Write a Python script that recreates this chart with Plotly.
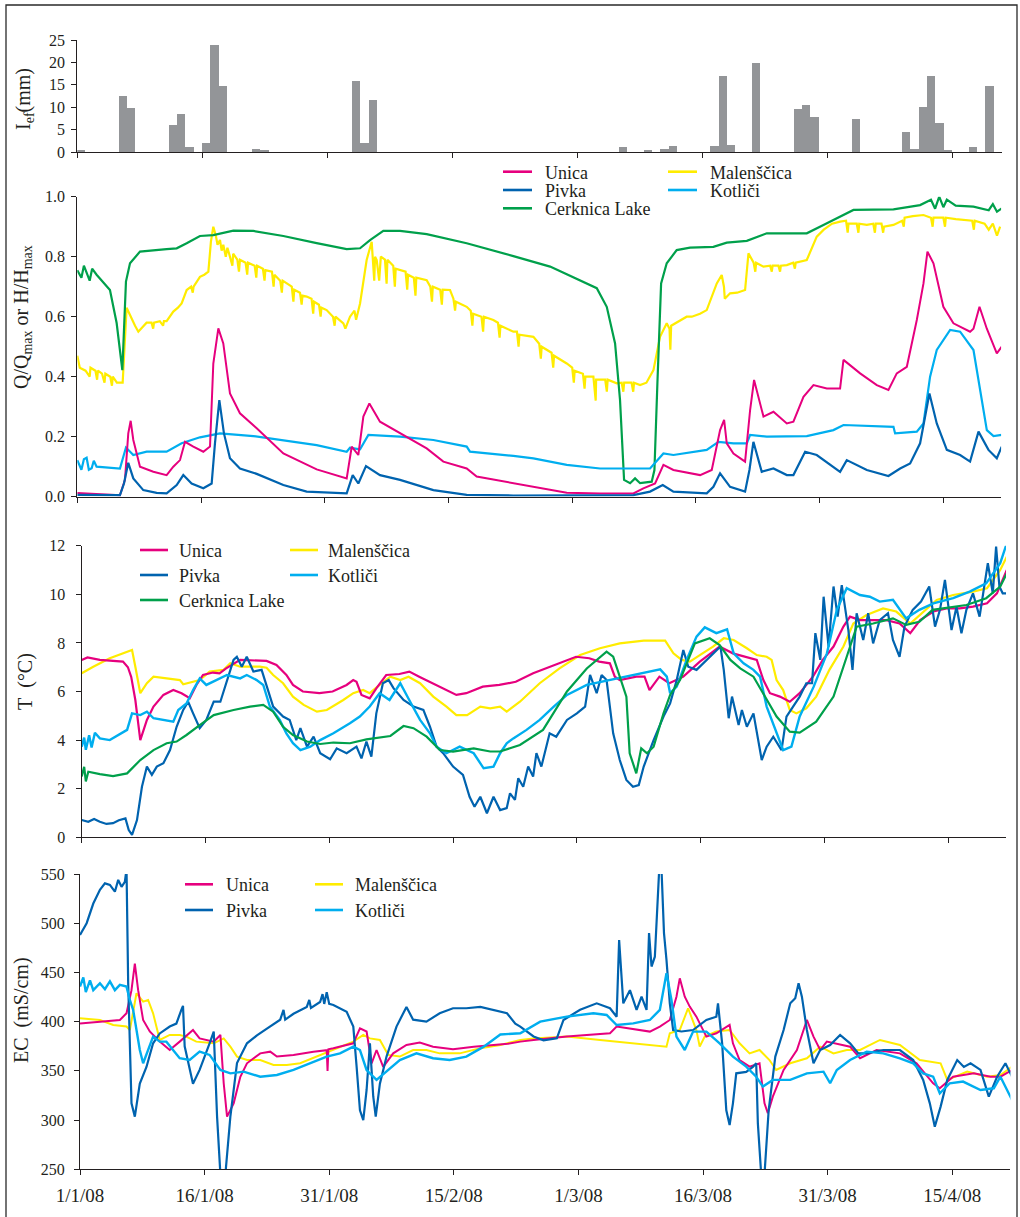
import numpy as np
import pandas as pd
import plotly.graph_objects as go

W, H = 1020, 1217
BASE = pd.Timestamp("2008-01-01")

# ---------------- data ----------------
tick_dates = ["2008-01-01", "2008-01-16", "2008-01-31", "2008-02-15",
              "2008-03-01", "2008-03-16", "2008-03-31", "2008-04-15"]
tick_text = ["1/1/08", "16/1/08", "31/1/08", "15/2/08",
             "1/3/08", "16/3/08", "31/3/08", "15/4/08"]

rain_dates = ["2008-01-01", "2008-01-06", "2008-01-07", "2008-01-12", "2008-01-13", "2008-01-14",
              "2008-01-16", "2008-01-17", "2008-01-18", "2008-01-22", "2008-01-23", "2008-02-03",
              "2008-02-04", "2008-02-05", "2008-03-06", "2008-03-09", "2008-03-11", "2008-03-12",
              "2008-03-17", "2008-03-18", "2008-03-19", "2008-03-22", "2008-03-27", "2008-03-28",
              "2008-03-29", "2008-04-03", "2008-04-09", "2008-04-10", "2008-04-11", "2008-04-12",
              "2008-04-13", "2008-04-14", "2008-04-17", "2008-04-19"]
rain_mm = [0.4, 12.6, 9.9, 6.0, 8.4, 1.2, 1.9, 23.8, 14.7, 0.6, 0.4, 15.8, 1.9, 11.7,
           1.1, 0.4, 0.7, 1.3, 1.4, 17.0, 1.5, 19.9, 9.5, 10.4, 7.8, 7.3, 4.5, 0.6,
           10.0, 16.9, 6.5, 0.4, 1.1, 14.7]

# (day since 1 Jan 2008, value) pairs
q_unica = [(0, .012), (5.17, .005), (5.78, .056), (6.18, .211), (6.47, .253), (6.79, .189), (7.6, .1),
           (9.22, .083), (10.83, .072), (11.64, .1), (12.45, .122), (13.06, .183), (14.07, .167),
           (15.28, .15), (16.09, .167), (16.49, .444), (17.1, .561), (17.7, .511), (18.51, .344),
           (19.72, .278), (21.75, .228), (24.98, .144), (29.02, .091), (32.66, .061), (33.27, .167),
           (34.07, .139), (34.68, .267), (35.41, .311), (36.7, .25), (39.13, .211), (42.36, .161),
           (44.38, .117), (47.21, .094), (48.42, .067), (52.87, .044), (55.3, .033), (59.34, .013),
           (63.38, .011), (67.42, .011), (68.63, .028), (70.05, .044), (71.06, .106), (72.27, .089),
           (75.51, .072), (76.92, .089), (77.93, .222), (78.42, .256), (78.74, .178), (79.55, .144),
           (80.96, .117), (81.57, .289), (82.05, .389), (83.19, .267), (84.4, .283), (86.02, .244),
           (86.82, .25), (88.04, .333), (89.25, .372), (90.87, .361), (92.48, .361), (92.89, .456),
           (94.91, .411), (96.93, .372), (98.34, .356), (99.35, .411), (100.57, .433), (101.78, .589),
           (102.59, .711), (103.07, .817), (103.8, .778), (105.0, .633), (106.22, .578), (108.24, .55),
           (108.65, .56), (109.38, .633), (110.27, .56), (111.48, .478), (112.08, .5)]
q_pivka = [(0, .006), (5.17, .005), (5.66, .044), (6.18, .113), (6.79, .061), (8.0, .022), (9.62, .013),
           (10.83, .011), (12.05, .039), (12.85, .072), (13.86, .044), (15.28, .028), (16.29, .044),
           (16.69, .178), (17.22, .322), (17.78, .211), (18.51, .128), (19.72, .094), (21.75, .076),
           (24.98, .039), (27.81, .017), (32.66, .011), (33.39, .072), (34.07, .044), (35.0, .102),
           (36.7, .072), (39.13, .056), (43.17, .022), (47.21, .006), (52.87, .004), (67.42, .005),
           (69.44, .017), (70.98, .039), (72.27, .017), (76.31, .011), (77.12, .033), (77.93, .078),
           (79.14, .033), (80.96, .017), (81.49, .089), (81.97, .183), (82.98, .083), (84.4, .094),
           (86.02, .072), (86.82, .072), (88.24, .15), (89.65, .139), (92.48, .083), (93.29, .122),
           (95.72, .089), (98.34, .069), (99.76, .094), (100.97, .111), (102.18, .178), (103.31, .344),
           (104.2, .244), (105.42, .156), (107.03, .139), (108.24, .117), (109.26, .217), (110.47, .156),
           (111.48, .128), (112.08, .167)]
q_cerknica = [(0, .755), (0.5, .73), (0.8, .77), (1.13, .745), (1.5, .72), (1.8, .76), (2.34, .74),
              (3.96, .689), (4.77, .579), (5.46, .422), (5.90, .717), (6.39, .778), (7.60, .817),
              (10.83, .825), (12.05, .828), (13.26, .845), (14.87, .869), (16.49, .872), (18.92, .887),
              (21.34, .886), (24.98, .869), (29.02, .845), (32.66, .825), (34.28, .828), (35.49, .855),
              (37.1, .886), (39.13, .886), (42.36, .875), (47.21, .845), (52.87, .802), (57.32, .767),
              (62.98, .695), (64.19, .633), (65.2, .511), (65.8, .322), (66.29, .056), (67.02, .045),
              (67.62, .061), (68.23, .045), (69.64, .05), (69.97, .089), (70.33, .378), (70.78, .711),
              (71.46, .778), (72.67, .822), (74.29, .83), (77.12, .833), (78.74, .847), (81.17, .853),
              (83.59, .878), (88.44, .878), (90.46, .906), (94.1, .956), (98.95, .958), (102.18, .972),
              (103.5, .99), (104.0, .96), (104.5, 1.0), (105.0, .965), (105.42, .99), (106.5, .97),
              (108.65, .967), (110.5, .955), (111.0, .975), (111.5, .95), (112.08, .961)]
q_malenscica = [(0, .47), (0.3, .43), (1.0, .42), (1.5, .40), (1.6, .43), (2.2, .42), (2.4, .39), (2.5, .42),
                (3.0, .41), (3.3, .38), (3.4, .41), (4.0, .40), (4.2, .37), (4.3, .40), (4.8, .38), (5.5, .38),
                (5.98, .63), (6.47, .60), (7.0, .57), (7.4, .55), (8.0, .57), (8.4, .58), (9.0, .58), (9.2, .56),
                (9.3, .58), (10.0, .585), (10.4, .57), (10.5, .585), (10.83, .585), (11.64, .617), (12.2, .63),
                (12.65, .644), (13.26, .689), (13.8, .70), (14.0, .68), (14.1, .70), (14.87, .733), (15.4, .74),
                (15.89, .75), (16.2, .85), (16.49, .90), (16.8, .87), (17.0, .84), (17.3, .856), (17.5, .82),
                (17.7, .84), (18.0, .80), (18.2, .83), (18.51, .80), (18.8, .77), (18.9, .81), (19.4, .79),
                (19.6, .75), (19.72, .79), (20.4, .78), (20.6, .74), (20.7, .78), (21.5, .77), (21.7, .73),
                (21.8, .77), (22.5, .76), (22.7, .72), (22.8, .755), (23.6, .75), (23.8, .70), (23.9, .74),
                (24.6, .72), (24.8, .68), (24.9, .72), (25.38, .711), (26.0, .70), (26.2, .65), (26.3, .69),
                (27.0, .68), (27.2, .64), (27.3, .67), (27.81, .667), (28.4, .66), (28.6, .61), (28.7, .65),
                (29.3, .64), (29.5, .60), (29.6, .63), (30.23, .622), (31.0, .60), (31.2, .57), (31.3, .60),
                (32.26, .578), (32.5, .56), (33.06, .60), (33.6, .62), (33.8, .59), (34.28, .644), (35.08, .789),
                (35.69, .85), (36.0, .72), (36.1, .80), (36.3, .789), (36.6, .72), (36.8, .80), (37.3, .79),
                (37.5, .71), (37.6, .79), (38.3, .77), (38.5, .70), (38.6, .76), (39.13, .756), (39.8, .75),
                (40.0, .69), (40.1, .74), (40.8, .73), (41.0, .67), (41.1, .73), (42.36, .722), (42.8, .70),
                (43.0, .65), (43.1, .70), (44.0, .69), (44.2, .64), (44.3, .69), (45.19, .689), (45.6, .66),
                (45.8, .62), (45.9, .65), (47.21, .633), (47.7, .62), (47.9, .57), (48.0, .61), (49.0, .60),
                (49.2, .55), (49.3, .60), (50.44, .589), (51.0, .58), (51.2, .53), (51.3, .57), (52.87, .55),
                (53.3, .55), (53.5, .50), (53.6, .54), (55.3, .533), (56.0, .51), (56.2, .46), (56.3, .50),
                (57.5, .48), (57.7, .43), (57.8, .47), (59.34, .444), (60.0, .43), (60.2, .38), (60.3, .42),
                (61.3, .41), (61.5, .36), (61.6, .40), (62.57, .40), (62.85, .32), (62.9, .39), (64.0, .39),
                (64.2, .35), (64.3, .39), (65.4, .378), (66.0, .38), (66.2, .35), (66.3, .38), (67.2, .38),
                (67.4, .35), (67.5, .38), (68.23, .372), (69.0, .38), (69.85, .422), (70.65, .533), (71.46, .578),
                (71.8, .56), (71.9, .49), (72.0, .57), (73.88, .60), (74.5, .60), (75.5, .61), (76.31, .622),
                (77.53, .711), (78.13, .739), (78.4, .70), (78.5, .66), (79.14, .678), (80.0, .68), (80.96, .689),
                (81.37, .811), (82.0, .78), (82.2, .75), (82.3, .78), (83.19, .767), (84.0, .77), (84.2, .75),
                (84.3, .77), (85.0, .77), (85.2, .75), (85.3, .77), (86.02, .772), (86.8, .78), (87.0, .76),
                (87.1, .78), (88.44, .789), (89.65, .867), (90.5, .89), (91.5, .91), (92.48, .917), (93.2, .92),
                (93.4, .88), (93.5, .91), (94.5, .91), (94.7, .88), (94.8, .91), (95.72, .906), (96.5, .91),
                (96.7, .88), (96.8, .91), (97.5, .91), (97.7, .88), (97.8, .90), (98.95, .906), (100.0, .92),
                (100.2, .90), (100.3, .93), (101.3, .935), (102.59, .939), (103.5, .93), (103.7, .90), (103.8, .93),
                (105.0, .93), (105.2, .90), (105.3, .93), (106.5, .925), (107.84, .922), (108.5, .92), (108.7, .89),
                (108.8, .92), (110.0, .91), (110.5, .89), (111.0, .91), (111.5, .87), (111.88, .90)]
q_kotlici = [(0, .122), (0.5, .09), (0.8, .125), (1.13, .13), (1.4, .09), (1.74, .095), (2.0, .12), (2.34, .1),
             (5.17, .094), (5.9, .164), (6.79, .139), (8.41, .15), (10.83, .15), (12.65, .178), (14.87, .198),
             (17.3, .211), (21.34, .202), (24.98, .187), (29.02, .172), (32.66, .15), (33.06, .163),
             (34.28, .158), (35.29, .206), (39.13, .2), (43.17, .189), (47.21, .167), (47.61, .15),
             (52.87, .136), (55.3, .128), (59.34, .106), (63.38, .094), (69.44, .094), (71.06, .144),
             (72.27, .139), (76.31, .156), (77.73, .183), (79.55, .178), (81.17, .178), (81.57, .206),
             (83.59, .2), (88.44, .202), (91.67, .222), (92.89, .239), (98.95, .233), (99.15, .211),
             (101.78, .217), (102.59, .244), (103.39, .4), (104.2, .489), (105.82, .556), (107.03, .55),
             (108.65, .489), (109.66, .322), (110.27, .222), (111.08, .202), (112.08, .206)]

t_unica = [(0, 7.3), (0.7, 7.4), (2.2, 7.3), (5.0, 7.23), (5.6, 7.0), (6.0, 6.6), (6.5, 5.65), (7.1, 4.0),
           (7.9, 4.83), (8.7, 5.38), (9.9, 5.86), (11.1, 6.06), (12.1, 5.93), (13.1, 5.72), (13.9, 6.27),
           (14.7, 6.68), (15.9, 6.78), (16.7, 6.75), (17.5, 6.95), (19.2, 7.3), (22.4, 7.26), (23.6, 7.09),
           (24.8, 6.68), (25.6, 6.27), (26.8, 6.0), (28.8, 5.93), (30.4, 6.0), (32.1, 6.27), (32.9, 6.47),
           (33.3, 6.4), (33.9, 5.86), (34.9, 5.72), (35.7, 6.13), (36.9, 6.68), (38.5, 6.72), (39.7, 6.82),
           (40.9, 6.61), (42.5, 6.34), (44.2, 6.06), (45.4, 5.86), (46.6, 5.93), (48.6, 6.2), (50.6, 6.27),
           (52.6, 6.4), (54.7, 6.75), (56.7, 7.02), (59.9, 7.43), (61.5, 7.37), (62.7, 7.23), (64.0, 7.16),
           (64.6, 6.61), (65.2, 6.47), (67.2, 6.61), (68.2, 6.61), (68.8, 6.06), (70.0, 6.61), (71.2, 6.34),
           (72.9, 6.61), (74.9, 7.23), (76.5, 7.64), (77.3, 7.85), (78.9, 7.57), (80.5, 7.43), (81.8, 7.3),
           (82.6, 6.47), (83.4, 5.93), (84.6, 5.79), (85.8, 5.58), (87.0, 5.93), (88.6, 6.61), (89.8, 7.3),
           (91.1, 7.85), (92.3, 8.67), (93.1, 9.08), (94.3, 8.94), (95.9, 8.94), (97.5, 8.94), (99.1, 8.8),
           (100.4, 8.4), (101.6, 8.94), (103.2, 9.29), (104.8, 9.42), (106.4, 9.42), (108.0, 9.49),
           (109.7, 9.63), (110.9, 10.04), (112.1, 11.0)]
t_pivka = [(0, .71), (0.8, .64), (1.5, .75), (2.2, .64), (3.0, .55), (3.8, .58), (4.5, .7), (5.3, .78), (5.7, .3),
           (6.1, .1), (6.7, .71), (7.3, 2.08), (7.9, 2.91), (8.5, 2.57), (9.1, 2.91), (9.9, 3.05), (10.7, 3.59),
           (11.5, 4.55), (12.3, 5.24), (12.9, 5.58), (13.5, 5.1), (14.3, 4.49), (15.1, 4.83), (16.0, 5.58),
           (16.8, 5.58), (17.6, 6.47), (18.4, 7.3), (18.8, 7.43), (19.4, 7.02), (20.0, 7.43), (20.8, 6.82),
           (21.8, 6.89), (22.4, 6.2), (23.2, 5.38), (24.4, 4.97), (25.2, 4.83), (26.0, 4.0), (26.5, 4.49),
           (27.3, 3.73), (28.1, 4.14), (28.9, 3.46), (30.1, 3.21), (30.9, 3.66), (32.1, 3.46), (33.3, 3.73),
           (33.9, 3.25), (34.5, 3.94), (35.1, 3.32), (35.7, 5.1), (36.5, 6.34), (37.2, 6.47), (37.8, 6.13),
           (39.0, 5.65), (40.2, 5.38), (41.4, 5.24), (42.2, 4.55), (43.0, 3.73), (43.8, 3.46), (45.0, 2.91),
           (46.2, 2.57), (47.0, 1.67), (47.6, 1.26), (48.3, 1.67), (49.1, .99), (49.9, 1.67), (50.7, 1.12),
           (51.5, 1.2), (51.9, 1.81), (52.5, 1.54), (52.9, 2.43), (53.5, 2.08), (54.1, 2.91), (54.7, 2.5),
           (55.1, 3.46), (55.7, 2.91), (56.7, 4.28), (57.5, 4.14), (58.8, 4.83), (60.0, 5.1), (61.0, 5.38),
           (61.6, 6.68), (62.4, 5.93), (63.0, 6.68), (63.6, 6.47), (64.4, 4.28), (65.2, 3.18), (66.0, 2.36),
           (66.8, 2.08), (67.5, 2.15), (68.1, 2.91), (69.3, 4.0), (70.5, 4.97), (71.3, 5.51), (72.1, 6.47),
           (72.9, 7.71), (73.5, 7.02), (74.5, 6.89), (75.7, 7.3), (76.5, 7.57), (77.4, 7.85), (77.8, 6.89),
           (78.4, 4.9), (78.8, 5.79), (79.6, 4.62), (80.0, 5.24), (80.6, 4.55), (81.4, 5.1), (82.4, 3.18),
           (83.0, 3.73), (83.8, 4.14), (84.8, 3.59), (85.4, 4.97), (86.2, 5.38), (87.0, 5.79), (87.8, 6.34),
           (88.5, 6.34), (88.9, 8.4), (89.5, 7.3), (89.9, 9.9), (90.5, 7.85), (91.1, 10.32), (91.6, 9.08),
           (92.1, 10.38), (92.9, 8.53), (93.4, 6.89), (93.9, 9.22), (94.7, 8.12), (95.3, 9.22), (95.9, 7.98),
           (96.7, 8.94), (97.7, 9.22), (98.3, 8.12), (99.1, 7.43), (99.7, 8.67), (100.7, 9.36), (101.7, 9.7),
           (102.7, 10.32), (103.4, 8.67), (104.0, 9.36), (104.6, 10.59), (105.4, 8.53), (106.0, 9.49),
           (106.6, 8.4), (107.2, 9.36), (108.0, 10.04), (108.8, 9.08), (109.8, 11.28), (110.4, 10.04),
           (110.8, 11.96), (111.2, 10.32), (111.6, 10.04), (112.0, 10.04)]
t_cerknica = [(0, 2.5), (0.3, 2.9), (0.5, 2.3), (0.8, 2.7), (2.2, 2.6), (3.8, 2.52), (5.5, 2.63), (7.1, 3.18),
              (8.7, 3.59), (10.3, 3.87), (11.5, 3.94), (12.7, 4.21), (14.3, 4.62), (16.0, 5.03), (18.4, 5.24),
              (20.4, 5.38), (22.0, 5.45), (23.2, 5.17), (24.4, 4.55), (25.6, 4.21), (27.3, 3.94), (28.9, 3.84),
              (30.5, 3.9), (32.5, 3.87), (34.5, 4.03), (37.4, 4.17), (39.0, 4.58), (40.2, 4.49), (41.8, 4.14),
              (43.4, 3.59), (45.0, 3.53), (47.5, 3.66), (49.5, 3.53), (50.7, 3.53), (53.1, 3.8), (55.9, 4.42),
              (58.8, 6.0), (61.2, 6.95), (63.6, 7.64), (64.4, 7.43), (66.0, 5.79), (66.4, 3.46), (67.2, 2.63),
              (67.8, 3.66), (68.5, 3.46), (69.3, 3.73), (70.5, 5.1), (71.3, 5.86), (72.5, 6.47), (74.3, 7.98),
              (76.1, 8.19), (77.3, 7.91), (78.6, 7.3), (79.8, 6.95), (81.4, 6.61), (83.0, 5.65), (84.2, 4.97),
              (85.8, 4.35), (87.0, 4.31), (89.0, 4.76), (91.1, 5.79), (92.7, 7.43), (93.9, 8.67), (95.9, 8.8),
              (98.3, 9.01), (99.9, 8.74), (101.5, 8.87), (103.1, 9.36), (107.2, 9.56), (109.6, 9.84),
              (111.3, 10.32), (112.1, 10.86)]
t_malenscica = [(0, 6.75), (1.4, 7.02), (3.4, 7.37), (5.0, 7.57), (6.1, 7.71), (6.5, 7.02), (7.1, 5.93),
                (7.9, 6.34), (8.7, 6.61), (10.3, 6.54), (11.9, 6.47), (12.3, 6.3), (13.1, 6.36), (14.3, 6.47),
                (15.5, 6.82), (17.2, 6.89), (18.0, 7.16), (19.2, 7.02), (21.6, 7.02), (22.4, 6.98), (23.2, 6.68),
                (24.4, 6.34), (25.6, 5.79), (26.9, 5.45), (28.5, 5.17), (29.7, 5.24), (31.7, 5.65), (32.9, 5.93),
                (34.1, 6.06), (34.9, 5.93), (36.1, 6.27), (37.4, 6.61), (38.6, 6.47), (39.6, 6.61), (41.0, 6.34),
                (42.6, 5.79), (44.2, 5.38), (45.4, 5.03), (46.7, 5.03), (48.3, 5.38), (49.5, 5.31), (50.7, 5.38),
                (51.5, 5.17), (53.1, 5.58), (55.5, 6.34), (57.9, 6.95), (60.4, 7.5), (62.8, 7.78), (65.2, 7.98),
                (68.1, 8.09), (70.7, 8.09), (71.7, 7.57), (72.7, 7.3), (73.7, 7.23), (74.9, 7.5), (76.5, 7.85),
                (77.8, 8.19), (79.0, 8.12), (80.6, 7.78), (81.8, 7.5), (83.0, 7.43), (83.6, 7.3), (84.2, 6.47),
                (85.0, 6.06), (85.8, 5.24), (86.6, 5.1), (87.8, 5.31), (89.0, 5.79), (90.6, 6.89), (92.3, 7.85),
                (93.5, 8.8), (95.1, 9.15), (97.1, 9.42), (98.7, 9.29), (100.4, 8.8), (102.0, 9.29), (103.6, 9.77),
                (105.6, 9.97), (108.0, 10.11), (109.7, 10.25), (111.3, 11.0), (112.1, 11.55)]
t_kotlici = [(0, 3.73), (0.3, 4.1), (0.5, 3.6), (0.9, 4.2), (1.2, 3.7), (1.6, 4.3), (2.2, 4.07), (3.4, 4.0),
             (5.5, 4.42), (6.1, 5.1), (7.1, 5.03), (7.9, 5.17), (8.7, 4.9), (9.9, 4.83), (11.1, 4.76), (11.7, 5.24),
             (12.7, 5.51), (13.5, 6.06), (14.3, 6.54), (15.1, 6.27), (16.4, 6.47), (17.6, 6.68), (19.2, 6.54),
             (20.0, 6.68), (21.2, 6.47), (22.0, 6.27), (22.8, 5.38), (24.0, 4.83), (24.8, 4.28), (25.6, 3.87),
             (26.5, 3.59), (27.7, 3.73), (28.9, 4.0), (30.5, 4.28), (32.5, 4.69), (33.7, 4.97), (34.9, 5.38),
             (36.1, 5.93), (37.3, 5.65), (38.6, 6.34), (39.8, 5.58), (41.0, 4.83), (42.2, 4.28), (43.0, 3.73),
             (44.2, 3.46), (45.8, 3.73), (47.5, 3.46), (48.7, 2.84), (49.9, 2.91), (50.7, 3.46), (51.5, 3.87),
             (52.3, 4.07), (53.9, 4.42), (55.5, 4.83), (57.2, 5.38), (58.8, 5.86), (61.2, 6.27), (64.0, 6.47),
             (66.8, 6.68), (70.1, 6.91), (70.9, 6.61), (71.3, 5.93), (72.1, 6.2), (73.3, 7.3), (74.5, 8.26),
             (75.5, 8.64), (76.9, 8.4), (78.2, 8.56), (79.0, 7.57), (80.2, 7.16), (81.4, 6.89), (82.2, 6.61),
             (83.0, 5.38), (84.2, 4.28), (85.0, 3.59), (86.0, 3.73), (87.0, 4.97), (88.7, 6.2), (90.3, 7.57),
             (91.5, 9.36), (92.7, 10.25), (94.3, 9.97), (95.5, 9.9), (96.7, 9.7), (98.3, 9.77), (99.9, 9.01),
             (101.5, 9.36), (103.2, 9.63), (105.6, 9.84), (107.6, 10.11), (109.6, 10.45), (111.3, 11.28),
             (112.1, 12.1)]

ec_unica = [(0, 398), (2.4, 400), (4.8, 401.7), (5.6, 408.5), (6.2, 432), (6.6, 459), (7.0, 432), (7.6, 401.7),
            (8.4, 390), (9.6, 379.7), (10.8, 371.2), (12.0, 379.7), (13.6, 391.5), (14.4, 383), (16.1, 379.7),
            (16.9, 386.5), (17.3, 337.4), (17.7, 303.5), (18.5, 317), (19.3, 344), (20.1, 357.7), (21.7, 367.8),
            (22.9, 369.5), (23.7, 364.5), (25.7, 366.2), (28.1, 369.5), (29.7, 371), (29.8, 350), (29.9, 372),
            (30.5, 373), (32.1, 376.3), (32.9, 378), (33.7, 393.2), (34.5, 390), (35.1, 357.7), (35.7, 371.2),
            (36.5, 354), (37.7, 367.8), (39.3, 376.3), (40.9, 378.7), (42.5, 374.6), (44.9, 371.9), (47.4, 374.6),
            (49.8, 376.3), (51.5, 377.5), (53.0, 379.7), (54.6, 381.4), (58.6, 384.8), (63.8, 388.2), (64.6, 395),
            (66.6, 392.2), (68.6, 389.9), (69.8, 395), (71.0, 401.7), (71.8, 425.4), (72.2, 444), (72.8, 425.4),
            (73.4, 415.3), (74.2, 405.1), (75.4, 384.8), (76.6, 388.2), (78.2, 396.6), (78.6, 378), (79.4, 361),
            (80.6, 354.3), (81.8, 357.7), (82.4, 317), (82.8, 306.9), (83.4, 323.8), (84.7, 350.9), (86.3, 371.2),
            (87.5, 401.7), (88.3, 384.8), (89.1, 371.2), (89.9, 379.7), (92.7, 374.6), (93.9, 362.8), (95.9, 371.2),
            (98.7, 367.8), (100.7, 357.7), (102.7, 337.4), (103.5, 332.3), (105.1, 344.1), (107.6, 347.5),
            (109.6, 344.1), (110.8, 344.1), (112.2, 350.9)]
ec_pivka = [(0, 488), (0.8, 500), (1.6, 520), (2.4, 534), (3.0, 540.5), (3.6, 539), (4.2, 532), (4.6, 544),
            (5.0, 537), (5.4, 542), (5.6, 555), (5.8, 439), (6.2, 317), (6.6, 303.5), (7.2, 337), (8.0, 354),
            (8.8, 378), (9.6, 388), (10.8, 395), (11.6, 398), (12.2, 412), (12.4, 416), (12.6, 375), (13.2, 354),
            (13.6, 337), (14.4, 351), (15.2, 368), (15.6, 378), (16.1, 390), (16.5, 303.5), (16.9, 245),
            (17.5, 245), (18.1, 303.5), (18.9, 358), (20.1, 378), (21.3, 386), (22.5, 393), (24.1, 402),
            (24.5, 412), (24.7, 402), (25.7, 408), (27.3, 415), (27.6, 422), (27.8, 414), (28.9, 420), (29.2, 428),
            (29.4, 418), (29.7, 430), (30.0, 418), (30.5, 417), (32.1, 410), (32.9, 395), (33.3, 354), (33.7, 310),
            (34.1, 300), (34.5, 330.6), (34.9, 378), (35.3, 324), (35.6, 303.5), (36.1, 337), (36.9, 364.5),
            (38.1, 395), (39.3, 415), (40.1, 402), (41.7, 400), (43.3, 408.5), (44.9, 413.6), (46.5, 413.6),
            (48.2, 415), (49.8, 412), (51.4, 408.5), (52.4, 398), (53.0, 395), (54.6, 385), (55.8, 381),
            (57.4, 383), (58.2, 401.7), (60.2, 412), (62.2, 418.6), (63.8, 413.6), (64.6, 405), (64.9, 483),
            (65.4, 418.6), (66.2, 432), (67.0, 412), (67.6, 425.4), (68.2, 412), (68.5, 490), (68.8, 456),
            (69.2, 466), (69.7, 550.7), (70.0, 555), (70.3, 490), (70.6, 462.7), (71.0, 418.6), (71.4, 391.5),
            (72.4, 390), (73.8, 391.5), (75.4, 401.7), (76.6, 405), (76.8, 418.6), (77.3, 378), (77.8, 310),
            (78.2, 295), (78.6, 317), (79.0, 347.5), (80.2, 349), (81.0, 354), (81.4, 357.7), (81.6, 296.7),
            (82.0, 245), (82.4, 245), (82.9, 310), (83.7, 364.5), (84.7, 391.5), (85.5, 418.6), (86.1, 423.7),
            (86.5, 439), (86.9, 425.4), (87.5, 391.5), (88.3, 357.7), (89.1, 371.2), (90.3, 376.3), (91.5, 386.5),
            (92.7, 378), (93.7, 367.8), (94.7, 367.8), (96.7, 371.2), (98.7, 371.2), (100.3, 361), (101.5, 340.8),
            (102.3, 317), (102.9, 293.3), (103.6, 313.7), (104.4, 340.8), (105.6, 361), (106.4, 354), (107.2, 357.7),
            (108.4, 351), (109.4, 323.8), (110.4, 344), (111.4, 357.7), (112.2, 344)]
ec_malenscica = [(0, 403.4), (2.4, 401.7), (4.0, 396.6), (5.6, 395), (6.0, 391.5), (6.8, 428.8), (7.6, 420.3),
                 (8.2, 422), (8.8, 408.5), (9.6, 381.4), (10.8, 386.5), (12.0, 386.5), (12.8, 384.8), (14.0, 379.7),
                 (16.1, 378), (17.3, 383), (18.1, 374.6), (18.9, 364.5), (20.1, 361), (21.7, 361), (23.3, 356),
                 (24.9, 356), (26.5, 357.7), (28.9, 366.2), (31.3, 374.6), (32.9, 379.7), (34.1, 386.5), (34.9, 383),
                 (36.1, 381.4), (37.1, 366.2), (38.5, 364.5), (40.1, 371.2), (41.7, 371.2), (43.3, 367.8),
                 (45.7, 367.8), (48.2, 372.9), (50.6, 376.3), (53.0, 381.4), (54.6, 383), (58.6, 384.8),
                 (62.6, 381.4), (66.6, 378), (69.8, 374.6), (70.6, 374.6), (71.0, 388.2), (72.2, 391.5),
                 (73.2, 413.6), (74.2, 391.5), (74.6, 374.6), (75.2, 384.8), (76.6, 389.9), (78.2, 391.5),
                 (79.4, 378), (80.6, 367.8), (81.8, 371.2), (83.0, 361), (83.8, 350.9), (85.5, 357.7), (87.5, 362.8),
                 (89.1, 374.6), (90.7, 367.8), (92.3, 371.2), (93.9, 371.2), (96.3, 381.4), (98.7, 376.3),
                 (101.1, 361), (103.6, 357.7), (104.4, 340.8), (106.8, 349.2), (109.2, 344.1), (110.8, 345.8),
                 (112.2, 354.3)]
ec_kotlici = [(0, 435.6), (0.4, 445), (0.7, 430), (1.2, 442), (1.6, 432), (2.4, 439), (3.0, 433), (3.6, 441),
              (4.2, 432), (4.8, 437.3), (5.6, 435.6), (6.0, 422), (6.4, 411.9), (7.2, 371.2), (7.6, 357.7),
              (8.2, 371.2), (8.8, 384.8), (9.6, 379.7), (10.4, 379.7), (11.2, 371.2), (12.0, 362.8), (13.2, 361),
              (14.4, 369.5), (15.6, 366.2), (16.9, 350.9), (18.1, 347.5), (19.7, 349.2), (21.7, 344.1),
              (23.7, 345.8), (25.7, 350.9), (27.7, 357.7), (29.7, 364.5), (31.3, 367.8), (32.9, 374.6),
              (33.7, 371.2), (34.5, 350.9), (35.7, 340.8), (36.9, 349.2), (38.5, 361), (40.5, 367.8), (42.5, 362.8),
              (44.5, 361), (46.5, 364.5), (48.6, 374.6), (50.6, 387), (53.0, 388.2), (55.4, 400), (58.6, 405.1),
              (61.8, 408.5), (63.4, 406.8), (64.6, 396.6), (66.6, 398.3), (68.6, 401.7), (69.8, 411.9),
              (70.6, 449.1), (71.2, 422), (71.8, 384.8), (72.8, 371.2), (73.8, 389.9), (75.4, 389.9), (77.0, 378),
              (78.6, 364.5), (80.2, 354.3), (81.4, 344.1), (82.2, 334), (83.4, 340.8), (85.5, 340.8), (87.5, 347.5),
              (89.5, 349.2), (90.3, 337.4), (91.1, 350.9), (92.7, 361), (94.7, 369.5), (96.7, 367.8), (98.7, 362.8),
              (100.3, 357.7), (101.5, 347.5), (102.7, 344.1), (103.5, 327.2), (104.7, 337.4), (106.3, 339.1),
              (108.4, 330.6), (110.0, 332.3), (110.8, 344.1), (112.2, 320.4)]

COL = {"Unica": "#E6007E", "Pivka": "#0063AF", "Cerknica Lake": "#00A04B",
       "Malenščica": "#FFEC00", "Kotliči": "#00AEEF"}
BAR_COL = "#939598"
INK = "#231F20"
FONT = "Liberation Serif, Times New Roman, serif"


def fx(p):
    return p / W


def fy(p):
    return 1 - p / H


def to_dates(days):
    return BASE + pd.to_timedelta(np.asarray(days, dtype=float), unit="D")


fig = go.Figure()

fig.add_trace(go.Bar(x=rain_dates, y=rain_mm, xperiod=86400000, xperiodalignment="middle",
                     width=86400000, marker=dict(color=BAR_COL, line=dict(width=0)),
                     xaxis="x", yaxis="y", showlegend=False, hoverinfo="skip"))


def add_line(pairs, name, ax, width=2.0):
    days, vals = zip(*pairs)
    fig.add_trace(go.Scatter(x=to_dates(days), y=list(vals), mode="lines", name=name,
                             line=dict(color=COL[name], width=width), xaxis="x" + ax, yaxis="y" + ax,
                             showlegend=False, hoverinfo="skip"))


add_line(q_malenscica, "Malenščica", "2", 2.2)
add_line(q_cerknica, "Cerknica Lake", "2", 2.2)
add_line(q_kotlici, "Kotliči", "2", 2.2)
add_line(q_unica, "Unica", "2", 2.0)
add_line(q_pivka, "Pivka", "2", 2.2)

add_line(t_malenscica, "Malenščica", "3", 2.2)
add_line(t_unica, "Unica", "3", 2.2)
add_line(t_pivka, "Pivka", "3", 2.2)
add_line(t_kotlici, "Kotliči", "3", 2.4)
add_line(t_cerknica, "Cerknica Lake", "3", 2.2)

add_line(ec_malenscica, "Malenščica", "4", 2.0)
add_line(ec_unica, "Unica", "4", 2.0)
add_line(ec_pivka, "Pivka", "4", 2.2)
add_line(ec_kotlici, "Kotliči", "4", 2.4)

# ---------------- axes ----------------
END = "2008-04-22"


def xax(dom, yref, rng_end=END, labels=False):
    return dict(type="date", domain=dom, anchor=yref, range=["2008-01-01", rng_end],
                showline=True, linecolor=INK, linewidth=1.3, ticks="outside", ticklen=5,
                tickwidth=1.2, tickcolor=INK, tickvals=tick_dates, ticktext=tick_text,
                showticklabels=labels, showgrid=False, zeroline=False, automargin=False,
                tickfont=dict(family=FONT, size=19, color=INK), ticklabelstandoff=4)


def yax(dom, xref, rng, dtick, fmt=None, standoff=2):
    d = dict(domain=dom, anchor=xref, range=rng, dtick=dtick, tick0=rng[0],
             showline=True, linecolor=INK, linewidth=1.3, ticks="outside", ticklen=5,
             tickwidth=1.2, tickcolor=INK, showgrid=False, zeroline=False, automargin=False,
             tickfont=dict(family=FONT, size=16, color=INK), ticklabelstandoff=standoff)
    if fmt:
        d["tickformat"] = fmt
    return d


fig.update_layout(
    width=W, height=H, margin=dict(l=0, r=0, t=0, b=0, pad=0),
    paper_bgcolor="white", plot_bgcolor="rgba(0,0,0,0)",
    bargap=0, showlegend=False,
    xaxis=xax([fx(77.3), fx(1002.3)], "y", rng_end="2008-04-21"),
    yaxis=yax([fy(152), fy(40)], "x", [0, 25], 5, standoff=3),
    xaxis2=xax([fx(77.3), fx(1001.1)], "y2"),
    yaxis2=yax([fy(496.7), fy(196.7)], "x2", [0, 1], 0.2, ".1f", standoff=3),
    xaxis3=xax([fx(81.7), fx(1006.0)], "y3"),
    yaxis3=yax([fy(837.3), fy(545.7)], "x3", [0, 12], 2, standoff=7),
    xaxis4=xax([fx(80), fx(1010.4)], "y4", labels=True),
    yaxis4=yax([fy(1169.3), fy(874)], "x4", [250, 550], 50, standoff=6),
)

annotations = []
shapes = []

# axis titles
for txt, cx, cy in [("I<sub>ef</sub>(mm)", 25, 99),
                    ("Q/Q<sub>max</sub> or H/H<sub>max</sub>", 22, 317),
                    ("T\u00a0\u00a0(°C)", 25, 682),
                    ("EC\u00a0\u00a0(mS/cm)", 21, 1010)]:
    annotations.append(dict(text=txt, x=fx(cx), y=fy(cy), xref="paper", yref="paper",
                            xanchor="center", yanchor="middle", textangle=-90, showarrow=False,
                            font=dict(family=FONT, size=20, color=INK)))

# legends (line sample + text)
legend_rows = [
    # panel 2
    ("Unica", 503, 532, 543, 171.7), ("Pivka", 503, 532, 543, 190), ("Cerknica Lake", 503, 532, 543, 208.3),
    ("Malenščica", 668, 697, 708, 171.7), ("Kotliči", 668, 697, 708, 190),
    # panel 3
    ("Unica", 140, 168, 177, 550), ("Pivka", 140, 168, 177, 575), ("Cerknica Lake", 140, 168, 177, 600),
    ("Malenščica", 290, 318, 326, 550), ("Kotliči", 290, 318, 326, 575),
    # panel 4
    ("Unica", 185, 213, 224, 884.3), ("Pivka", 185, 213, 224, 910),
    ("Malenščica", 315, 343, 353, 884.3), ("Kotliči", 315, 343, 353, 910),
]
for name, x0, x1, tx, yy in legend_rows:
    shapes.append(dict(type="line", xref="paper", yref="paper", x0=fx(x0), x1=fx(x1), y0=fy(yy), y1=fy(yy),
                       line=dict(color=COL[name], width=2.6)))
    annotations.append(dict(text=name, x=fx(tx), y=fy(yy + 1), xref="paper", yref="paper",
                            xanchor="left", yanchor="middle", showarrow=False,
                            font=dict(family=FONT, size=18, color=INK)))

# outer frame
shapes.append(dict(type="rect", xref="paper", yref="paper", x0=fx(6), x1=fx(1017), y0=fy(1230), y1=fy(5),
                   line=dict(color="#2a2a2a", width=1.3), fillcolor="rgba(0,0,0,0)", layer="above"))

fig.update_layout(annotations=annotations, shapes=shapes)

fig.write_html("out.html", config={"displayModeBar": False},
               post_script="document.body.style.margin='0';document.body.style.overflow='hidden';")
